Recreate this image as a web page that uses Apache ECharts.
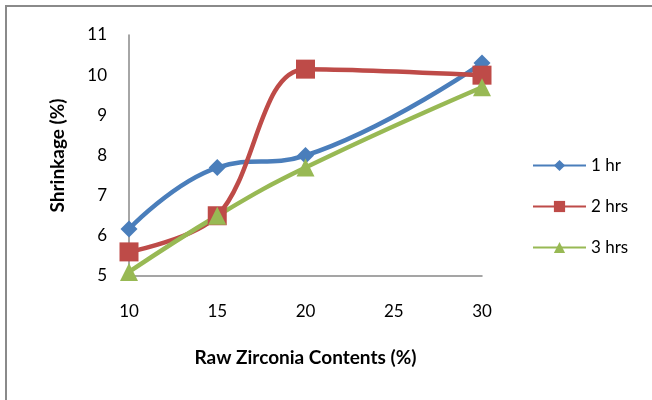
<!DOCTYPE html>
<html><head><meta charset="utf-8">
<script src="https://cdn.jsdelivr.net/npm/echarts@6/dist/echarts.min.js"></script>
<style>html,body{margin:0;padding:0;background:#fff}#c{width:652px;height:400px}</style>
</head><body><div id="c"></div>
<script>
const xValues = [10, 15, 20, 30];
const hr1 = [6.17, 7.7, 8.0, 10.3];
const hr2 = [5.6, 6.5, 10.15, 10.0];
const hr3 = [5.1, 6.5, 7.7, 9.7];
const seriesNames = ['1 hr', '2 hrs', '3 hrs'];
const xTitle = 'Raw Zirconia Contents (%)';
const yTitle = 'Shrinkage (%)';

const font = 'Lato, "Open Sans", sans-serif';
const pair = (arr) => xValues.map((x, i) => [x, arr[i]]);
const chart = echarts.init(document.getElementById('c'), null, {renderer: 'canvas'});
const mk = (name, data, color, symbol, size, smooth) => ({
  name, type: 'line', data: pair(data), smooth,
  symbol, symbolSize: size,
  lineStyle: {color, width: 4.5},
  itemStyle: {color},
  emphasis: {disabled: true}
});
chart.setOption({
  animation: false,
  graphic: [{type: 'rect', shape: {x: 6, y: 6, width: 660, height: 420}, style: {fill: null, stroke: '#8a8a8a', lineWidth: 2}}],
  grid: {left: 129, right: 170, top: 35, bottom: 124},
  xAxis: {
    type: 'value', min: 10, max: 30, interval: 5,
    name: xTitle, nameLocation: 'middle', nameGap: 72,
    nameTextStyle: {fontFamily: font, fontWeight: 'bold', fontSize: 19, color: '#000'},
    axisLine: {show: true, lineStyle: {color: '#888', width: 1.5}},
    axisTick: {show: false},
    splitLine: {show: false},
    axisLabel: {fontFamily: font, fontSize: 17, color: '#000', margin: 27}
  },
  yAxis: {
    type: 'value', min: 5, max: 11, interval: 1,
    name: yTitle, nameLocation: 'middle', nameGap: 62,
    nameTextStyle: {fontFamily: font, fontWeight: 'bold', fontSize: 19, color: '#000'},
    axisLine: {show: true, lineStyle: {color: '#888', width: 1.5}},
    axisTick: {show: false},
    splitLine: {show: false},
    axisLabel: {fontFamily: font, fontSize: 17, color: '#000', margin: 22}
  },
  legend: {
    orient: 'vertical', left: 527, top: 152, itemWidth: 53, itemHeight: 14, itemGap: 24,
    textStyle: {fontFamily: font, fontSize: 17, color: '#000'},
    data: seriesNames
  },
  series: [
    mk(seriesNames[0], hr1, '#4A7EBB', 'diamond', 17, 0.45),
    mk(seriesNames[1], hr2, '#BE4B48', 'rect', 19, 0.35),
    mk(seriesNames[2], hr3, '#98B954', 'triangle', 18, 0.45)
  ]
});
</script></body></html>
